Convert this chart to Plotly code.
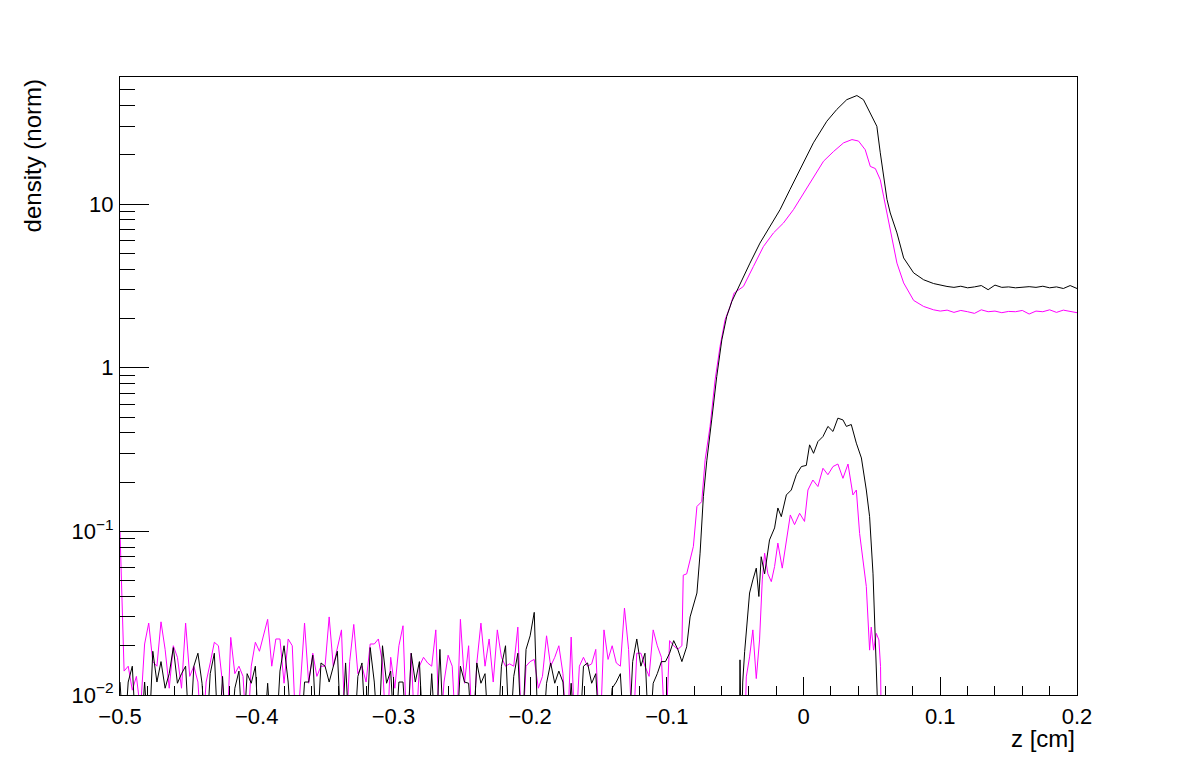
import numpy as np
import plotly.graph_objects as go

# ---------------- data ----------------
# noise region, bin centres every 0.003 from -0.5 to -0.092
noise_z = np.round(-0.5 + 0.003 * np.arange(137), 4)

noise_mag = [
    0.1, 0.014, 0.015, 0.0107, 0.013, 0.008, 0.0205, 0.0275, 0.016, 0.015, 0.028, 0.019, 0.011, 0.02, 0.017,
    0.011, 0.0275, 0.013, 0.015, 0.012, 0.005, 0.012, 0.0157, 0.021, 0.020, 0.0118, 0.005, 0.0225, 0.0135,
    0.015, 0.013, 0.005, 0.015, 0.021, 0.0185,
    0.023, 0.029, 0.015, 0.022, 0.022, 0.0118, 0.022, 0.020, 0.005, 0.012, 0.0275, 0.0118, 0.018, 0.013,
    0.015, 0.015, 0.030, 0.015, 0.019, 0.025, 0.005, 0.016, 0.027, 0.0135, 0.015, 0.012, 0.0205, 0.0205,
    0.022, 0.0157, 0.005, 0.017, 0.011, 0.020,
    0.0265, 0.005, 0.018, 0.005, 0.015, 0.017, 0.0157, 0.015, 0.025, 0.005, 0.012, 0.0175, 0.015, 0.005,
    0.029, 0.0118, 0.020, 0.005, 0.0157, 0.0275, 0.015, 0.022, 0.012, 0.025, 0.017, 0.015, 0.0155, 0.015,
    0.026, 0.005, 0.015, 0.016, 0.0165, 0.011,
    0.013, 0.023, 0.015, 0.017, 0.020, 0.0135, 0.005, 0.0226, 0.005, 0.015, 0.017, 0.015, 0.0155, 0.019,
    0.005, 0.025, 0.0165, 0.020, 0.0157, 0.015, 0.034, 0.019, 0.005, 0.018, 0.018, 0.015, 0.013, 0.025,
    0.020, 0.017, 0.005, 0.0215, 0.020, 0.019,
]

noise_blk = [
    0.012, 0.005, 0.012, 0.015, 0.005, 0.005, 0.012, 0.005, 0.0185, 0.012, 0.016, 0.011, 0.0135, 0.0195,
    0.0118, 0.0135, 0.015, 0.005, 0.015, 0.018, 0.0118, 0.005, 0.0135, 0.018, 0.005, 0.013, 0.005, 0.005,
    0.011, 0.014, 0.005, 0.0135, 0.0118, 0.015, 0.005,
    0.005, 0.0118, 0.005, 0.005, 0.014, 0.020, 0.012, 0.005, 0.005, 0.005, 0.012, 0.012, 0.0175, 0.005,
    0.0157, 0.015, 0.012, 0.015, 0.0185, 0.005, 0.0157, 0.005, 0.005, 0.013, 0.0157, 0.005, 0.0195, 0.012,
    0.005, 0.020, 0.0118, 0.014, 0.005, 0.012,
    0.012, 0.005, 0.018, 0.012, 0.016, 0.005, 0.005, 0.0135, 0.005, 0.019, 0.005, 0.005, 0.005, 0.005,
    0.015, 0.012, 0.0118, 0.005, 0.0157, 0.0118, 0.0135, 0.005, 0.005, 0.005, 0.015, 0.020, 0.005, 0.013,
    0.018, 0.005, 0.019, 0.023, 0.032, 0.005,
    0.005, 0.0118, 0.0157, 0.0118, 0.014, 0.012, 0.005, 0.0118, 0.005, 0.005, 0.015, 0.0157, 0.0118,
    0.0135, 0.005, 0.005, 0.005, 0.011, 0.012, 0.0135, 0.005, 0.005, 0.016, 0.022, 0.015, 0.018, 0.005,
    0.0118, 0.0135, 0.016, 0.016, 0.018, 0.0215, 0.019,
]

# upper magenta: rise, peak and plateau
up_mag_z = [-0.089, -0.088, -0.0855, -0.0806, -0.078, -0.0745, -0.072, -0.0684, -0.0647, -0.0611, -0.0574,
            -0.0537, -0.0508, -0.044, -0.0367, -0.0294, -0.022, -0.0147, -0.0074, 0.0, 0.0073, 0.0146,
            0.022, 0.0293, 0.0354, 0.0402, 0.0451, 0.0488, 0.0525, 0.0561, 0.0585, 0.061, 0.0634, 0.0683,
            0.0732, 0.0805, 0.0878, 0.0951,
            0.100, 0.105, 0.110, 0.115, 0.120, 0.125, 0.130, 0.135, 0.140, 0.145, 0.150, 0.155, 0.160,
            0.165, 0.170, 0.175, 0.180, 0.185, 0.190, 0.195, 0.200]
up_mag_v = [0.020, 0.054, 0.055, 0.081, 0.142, 0.152, 0.274, 0.438, 0.845, 1.35, 1.97,
            2.37, 2.86, 3.14, 4.16, 5.50, 6.67, 7.67, 9.25, 11.7, 14.8, 18.3,
            21.0, 23.7, 24.8, 24.3, 21.5, 17.0, 16.5, 14.1, 11.2, 8.83, 7.3, 4.36,
            3.3, 2.58, 2.37, 2.26,
            2.22, 2.25, 2.18, 2.24, 2.20, 2.15, 2.26, 2.20, 2.22, 2.17, 2.21, 2.20, 2.24,
            2.13, 2.22, 2.20, 2.26, 2.18, 2.25, 2.20, 2.17]

# upper black: rise, peak and plateau
up_blk_z = [-0.089, -0.0855, -0.083, -0.078, -0.0757, -0.0733, -0.0708, -0.0672, -0.0635, -0.0598,
            -0.0562, -0.0525, -0.0453, -0.0392, -0.0319, -0.0245, -0.0172, -0.0099, -0.0026, 0.0072,
            0.017, 0.0243, 0.0316, 0.039, 0.0438, 0.0487, 0.0512, 0.0536, 0.0561, 0.0585, 0.061, 0.0634,
            0.0683, 0.0732, 0.0805, 0.0878, 0.0951, 0.1049,
            0.110, 0.115, 0.120, 0.125, 0.130, 0.135, 0.140, 0.145, 0.150, 0.155, 0.160, 0.165, 0.170,
            0.175, 0.180, 0.185, 0.190, 0.195, 0.200]
up_blk_v = [0.016, 0.0197, 0.030, 0.042, 0.0736, 0.163, 0.27, 0.48, 0.885, 1.48,
            2.06, 2.54, 3.45, 4.36, 5.78, 7.3, 9.25, 12.3, 16.3, 23.7,
            32.1, 37.9, 43.5, 46.1, 43.5, 36.1, 32.1, 29.9, 20.6, 14.8, 10.7, 8.83,
            6.67, 4.69, 3.8, 3.45, 3.27, 3.14,
            3.10, 3.15, 3.08, 3.12, 3.18, 3.00, 3.20, 3.10, 3.12, 3.08, 3.10, 3.13, 3.10,
            3.15, 3.08, 3.12, 3.05, 3.18, 3.05]

# lower black peak
lo_blk_z = [-0.047, -0.0465, -0.0455, -0.0445, -0.0431, -0.0407, -0.0395, -0.0371, -0.0346, -0.0327,
            -0.031, -0.0285, -0.0249, -0.0212, -0.0188, -0.0163, -0.0126, -0.009, -0.0053, -0.0016,
            0.002, 0.0044, 0.0073, 0.0105, 0.0142, 0.0178, 0.0215, 0.0251, 0.0288, 0.0313, 0.0349,
            0.0386, 0.0423, 0.0459, 0.0483, 0.0508, 0.0532, 0.0551]
lo_blk_v = [0.005, 0.0164, 0.005, 0.012, 0.0184, 0.030, 0.042, 0.0505, 0.0596, 0.040,
            0.070, 0.055, 0.0887, 0.105, 0.139, 0.123, 0.167, 0.179, 0.222, 0.249,
            0.253, 0.338, 0.30, 0.354, 0.380, 0.438, 0.408, 0.492, 0.48, 0.438, 0.45,
            0.346, 0.281, 0.179, 0.123, 0.055, 0.0164, 0.005]

# lower magenta peak
lo_mag_z = [-0.0431, -0.0419, -0.0395, -0.0371, -0.0346, -0.0322, -0.0302, -0.0285, -0.0261, -0.0236,
            -0.0212, -0.0188, -0.0156, -0.0126, -0.0097, -0.0066, -0.0029, 0.0007, 0.0032, 0.0068,
            0.0105, 0.0142, 0.0178, 0.0215, 0.0251, 0.0288, 0.0325, 0.0361, 0.0386, 0.041, 0.0434,
            0.0459, 0.0483, 0.0495, 0.0512, 0.0532, 0.0551, 0.0563, 0.057]
lo_mag_v = [0.005, 0.0129, 0.0171, 0.025, 0.0126, 0.0217, 0.0505, 0.0736, 0.055, 0.0493,
            0.061, 0.0848, 0.0596, 0.0887, 0.126, 0.110, 0.129, 0.115, 0.179, 0.206,
            0.188, 0.243, 0.222, 0.249, 0.258, 0.211, 0.258, 0.167, 0.179, 0.097, 0.067,
            0.046, 0.0188, 0.026, 0.0188, 0.0238, 0.0217, 0.0149, 0.005]

x_tickvals = [-0.5, -0.4, -0.3, -0.2, -0.1, 0.0, 0.1, 0.2]
x_ticktext = ["\u22120.5", "\u22120.4", "\u22120.3", "\u22120.2", "\u22120.1", "0", "0.1", "0.2"]
y_tickvals = [0.01, 0.1, 1, 10]
y_ticktext = ["10<sup>\u22122</sup>", "10<sup>\u22121</sup>", "1", "10"]
x_title = "z [cm]"
y_title = "density (norm)"

# ---------------- figure ----------------
BLACK = "#000000"
MAGENTA = "#ff00ff"
FONT = "Liberation Sans, Arial, Helvetica, sans-serif"

mag_z = list(noise_z) + up_mag_z
mag_v = noise_mag + up_mag_v
blk_z = list(noise_z) + up_blk_z
blk_v = noise_blk + up_blk_v

fig = go.Figure()
fig.add_trace(go.Scatter(x=mag_z, y=mag_v, mode="lines", line=dict(color=MAGENTA, width=1), showlegend=False))
fig.add_trace(go.Scatter(x=blk_z, y=blk_v, mode="lines", line=dict(color=BLACK, width=1), showlegend=False))
fig.add_trace(go.Scatter(x=lo_mag_z, y=lo_mag_v, mode="lines", line=dict(color=MAGENTA, width=1), showlegend=False))
fig.add_trace(go.Scatter(x=lo_blk_z, y=lo_blk_v, mode="lines", line=dict(color=BLACK, width=1), showlegend=False))

minor_x = [round(-0.5 + 0.02 * i, 3) for i in range(36)]
minor_y = [k * 10.0 ** e for e in range(-2, 2) for k in range(2, 10) if k * 10.0 ** e < 60]

# the page body adds an 8 px offset, so the figure is 8 px smaller and margins shifted
fig.update_layout(
    width=1190, height=765,
    margin=dict(l=112, r=121, t=69, b=78),
    paper_bgcolor="white", plot_bgcolor="white",
    font=dict(family=FONT, size=22, color="black"),
    xaxis=dict(
        range=[-0.5, 0.2], tickmode="array", tickvals=x_tickvals, ticktext=x_ticktext,
        ticks="inside", ticklen=18, tickwidth=1, tickcolor="black",
        showline=True, linecolor="black", linewidth=1, mirror=True,
        showgrid=False, zeroline=False, ticklabelstandoff=2,
        minor=dict(ticks="inside", ticklen=9, tickmode="array", tickvals=minor_x, tickcolor="black",
                   showgrid=False),
        tickfont=dict(size=22),
    ),
    yaxis=dict(
        type="log", range=[-2, 1.777],
        tickmode="array", tickvals=y_tickvals, ticktext=y_ticktext,
        ticks="inside", ticklen=29, tickwidth=1, tickcolor="black",
        showline=True, linecolor="black", linewidth=1, mirror=True,
        showgrid=False, zeroline=False, ticklabelstandoff=1,
        minor=dict(ticks="inside", ticklen=15, tickmode="array", tickvals=minor_y, tickcolor="black",
                   showgrid=False),
        tickfont=dict(size=22),
    ),
    annotations=[
        dict(text=x_title, xref="paper", yref="paper", x=1.0, y=-0.07, xanchor="right", yanchor="middle",
             showarrow=False, font=dict(size=24)),
        dict(text=y_title, xref="paper", yref="paper", x=-0.091, y=1.0, xanchor="center", yanchor="top",
             textangle=-90, showarrow=False, font=dict(size=24)),
    ],
)

fig.write_html("out.html")
